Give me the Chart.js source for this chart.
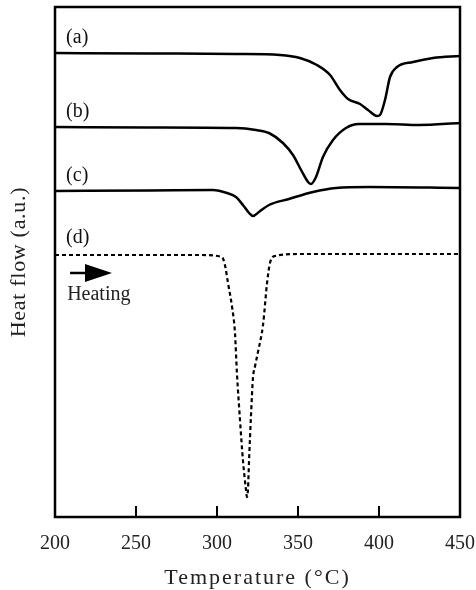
<!DOCTYPE html>
<html>
<head>
<meta charset="utf-8">
<script src="https://cdn.jsdelivr.net/npm/chart.js@4/dist/chart.umd.min.js"></script>
<style>
  body { margin: 0; background: #fff; }
  #wrap { width: 476px; height: 590px; }
</style>
</head>
<body>
<div id="wrap"><canvas id="dsc" width="476" height="590"></canvas></div>
<script>
// Temperatures (°C) and heat flow (a.u., baseline offsets)
const tempA = [200, 258.6, 311.7, 338.9, 351.2, 361.7, 369.8, 375.9, 380.9, 388.3, 393.2, 398.8, 400.6, 403.7, 406.8, 411.1, 421.0, 433.3, 450];
const flowA = [464, 463.5, 463, 462, 459, 452, 442, 427, 418, 413, 407, 401, 402, 417, 440, 450, 455, 459, 461];

const tempB = [200, 258.6, 311.7, 324.1, 332.1, 340.7, 346.9, 351.9, 356.2, 358.0, 361.1, 365.4, 371.6, 379.6, 387.7, 404.3, 424.7, 450];
const flowB = [390, 389.5, 389, 387, 384, 374, 362, 347, 335, 333, 340, 360, 377, 389, 393, 393, 392, 394];

const tempC = [200, 258.6, 297.5, 306.2, 311.7, 316.0, 319.8, 322.2, 325.9, 332.1, 344.4, 359.3, 373.5, 393.8, 450];
const flowC = [326, 326.5, 327, 324, 320, 312, 304, 301, 305, 312, 318, 325, 329, 330, 329];

const tempD = [200, 289.5, 303.1, 304.9, 306.8, 309.3, 311.1, 312.3, 314.2, 316.0, 317.9, 318.5, 319.1, 319.8, 321.0, 322.2, 323.5, 325.3, 328.4, 330.9, 332.7, 335.8, 351.2, 450];
const flowD = [262, 262, 260, 252, 234, 210, 184, 144, 97, 57, 27, 20, 27, 57, 102, 139, 151, 165, 192, 234, 254, 261, 263, 263];

const curveLabels = ["(a)", "(b)", "(c)", "(d)"];
const labelSpots = [[205, 479], [205, 405], [205, 341], [205, 279]]; // [temp, flow] of each tag
const xTicks = [200, 250, 300, 350, 400, 450];

const serif = "'Liberation Serif', 'DejaVu Serif', serif";

function pairs(xs, ys) {
  return xs.map((x, i) => ({ x: x, y: ys[i] }));
}

function curve(xs, ys, dashed) {
  return {
    data: pairs(xs, ys),
    borderColor: "#000",
    borderWidth: dashed ? 2.2 : 2.5,
    borderDash: dashed ? [4, 3] : [],
    pointRadius: 0,
    cubicInterpolationMode: "monotone",
    fill: false,
  };
}

// frame, inner ticks, tags, arrow and axis titles
const decor = {
  id: "decor",
  afterDraw(chart) {
    const { ctx, chartArea: a, scales } = chart;
    const sx = scales.x, sy = scales.y;
    ctx.save();
    ctx.strokeStyle = "#000";
    ctx.lineWidth = 2.5;
    ctx.strokeRect(a.left, a.top, a.right - a.left, a.bottom - a.top);

    ctx.lineWidth = 2;
    xTicks.slice(1, -1).forEach(t => {
      const px = sx.getPixelForValue(t);
      ctx.beginPath();
      ctx.moveTo(px, a.bottom);
      ctx.lineTo(px, a.bottom - 11);
      ctx.stroke();
    });

    ctx.fillStyle = "#111";
    ctx.font = "20px " + serif;
    ctx.textBaseline = "middle";
    ctx.textAlign = "left";
    curveLabels.forEach((lab, i) => {
      ctx.fillText(lab, sx.getPixelForValue(labelSpots[i][0]) + 3, sy.getPixelForValue(labelSpots[i][1]));
    });

    // heating arrow
    const ay = sy.getPixelForValue(244);
    const x0 = sx.getPixelForValue(209.3), x1 = sx.getPixelForValue(235.2);
    ctx.lineWidth = 2.5;
    ctx.beginPath();
    ctx.moveTo(x0, ay);
    ctx.lineTo(x1 - 20, ay);
    ctx.stroke();
    ctx.fillStyle = "#000";
    ctx.beginPath();
    ctx.moveTo(x1 - 27, ay - 9);
    ctx.lineTo(x1, ay);
    ctx.lineTo(x1 - 27, ay + 9);
    ctx.closePath();
    ctx.fill();

    ctx.fillStyle = "#222";
    ctx.font = "20px " + serif;
    ctx.fillText("Heating", sx.getPixelForValue(207.5), sy.getPixelForValue(222));

    // axis titles
    ctx.textAlign = "center";
    ctx.font = "22px " + serif;
    ctx.letterSpacing = "2px";
    ctx.fillText("Temperature (\u00B0C)", (a.left + a.right) / 2, 578);
    ctx.letterSpacing = "0.7px";
    ctx.translate(19, (a.top + a.bottom) / 2);
    ctx.rotate(-Math.PI / 2);
    ctx.fillText("Heat flow (a.u.)", 0, 0);
    ctx.restore();
  },
};

new Chart(document.getElementById("dsc"), {
  type: "line",
  data: {
    datasets: [
      curve(tempA, flowA, false),
      curve(tempB, flowB, false),
      curve(tempC, flowC, false),
      curve(tempD, flowD, true),
    ],
  },
  options: {
    responsive: false,
    animation: false,
    layout: { padding: { left: 55, right: 16, top: 7, bottom: 0 } },
    scales: {
      x: {
        type: "linear",
        min: 200,
        max: 450,
        afterBuildTicks: s => { s.ticks = xTicks.map(v => ({ value: v })); },
        afterFit: s => { s.height = 73; s.paddingLeft = 0; s.paddingRight = 0; },
        grid: { display: false, drawTicks: false },
        border: { display: false },
        ticks: { color: "#222", padding: 15, maxRotation: 0, font: { family: serif, size: 20 } },
      },
      y: {
        min: 0,
        max: 510,
        display: false,
      },
    },
    plugins: {
      legend: { display: false },
      tooltip: { enabled: false },
    },
  },
  plugins: [decor],
});
</script>
</body>
</html>
